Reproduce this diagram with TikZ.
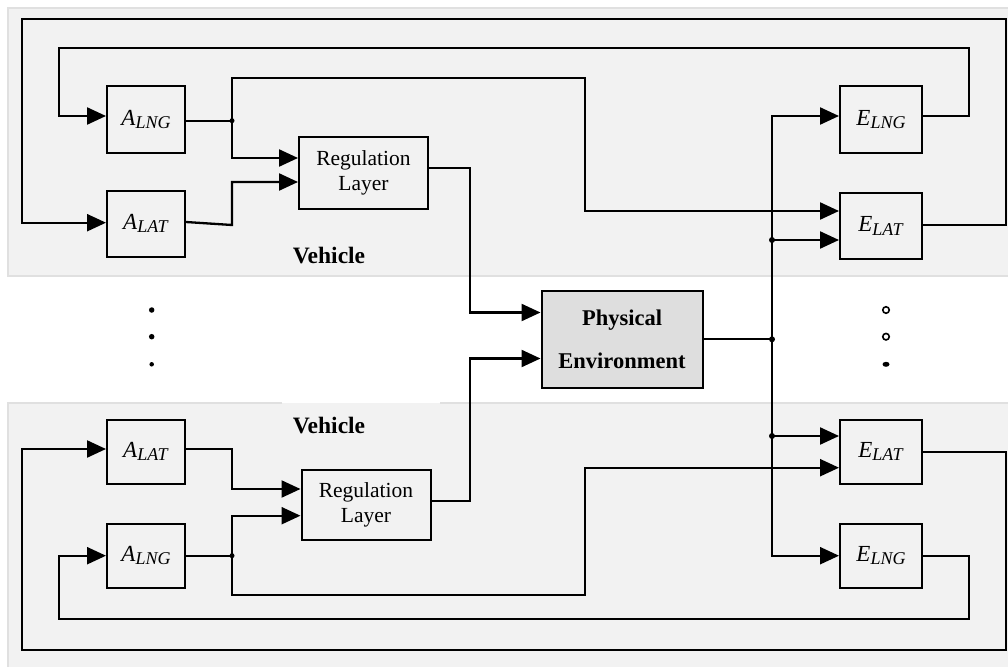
\documentclass[tikz,border=0pt]{standalone}
\usepackage{fontspec}
\setmainfont{Liberation Serif}
\usetikzlibrary{arrows.meta}
\definecolor{panel}{HTML}{F2F2F2}
\definecolor{panelborder}{HTML}{E0E0E0}
\definecolor{physfill}{HTML}{DEDEDE}
\newcommand{\blklabel}[2]{{\fontsize{23}{27}\selectfont\textit{#1}\raisebox{-3.5pt}{\fontsize{18}{20}\selectfont\textit{#2}}}}
\begin{document}
\begin{tikzpicture}[x=1pt,y=-1pt,
  box/.style={draw,line width=2pt,inner sep=0pt,fill=panel},
  smallbox/.style={box,minimum width=78pt,minimum height=66pt},
  ebox/.style={box,minimum width=82pt,minimum height=66pt},
  regbox/.style={box,minimum width=129pt,minimum height=72pt,align=center,
     font=\fontsize{21.5}{25}\selectfont},
  physbox/.style={box,fill=physfill,minimum width=161pt,minimum height=97pt,align=center,
     font=\fontsize{22.5}{43}\selectfont\bfseries},
  wire/.style={line width=2.3pt},
  arr/.style={line width=2.3pt,-{Triangle[length=19pt,width=17pt]}},
  jdot/.style={circle,fill=black,inner sep=0pt,minimum size=6pt},
  ellip/.style={circle,fill=black,inner sep=0pt,minimum size=5.5pt},
  hollow/.style={circle,draw,line width=1.6pt,inner sep=0pt,minimum size=6.5pt},
  vlabel/.style={font=\fontsize{23.5}{26}\selectfont\bfseries}
]
\useasboundingbox (0,0) rectangle (1008,666);
\fill[white] (0,0) rectangle (1008,666);
% panels
\fill[panel] (8,8) rectangle (1012,276);
\draw[panelborder,line width=2pt] (1012,8) -- (8,8) -- (8,276) -- (1012,276);
\fill[panel] (8,403) rectangle (1012,670);
\draw[panelborder,line width=2pt] (282,403) -- (8,403) -- (8,670);
\draw[panelborder,line width=2pt] (440,403) -- (1012,403);

% top vehicle
\node[smallbox] (aLngT) at (146,119.5) {\blklabel{A}{LNG}};
\node[smallbox] (aLatT) at (146,223.5) {\blklabel{A}{LAT}};
\node[regbox] (regT) at (363.5,172.5) {Regulation\\Layer};
\node[ebox] (eLngT) at (881,119.5) {\blklabel{E}{LNG}};
\node[ebox] (eLatT) at (881,226) {\blklabel{E}{LAT}};
\node[vlabel] (vehT) at (329,256) {Vehicle};

% physical environment
\node[physbox] (phys) at (622,339.5) {Physical\\Environment};

% bottom vehicle
\node[smallbox,minimum height=64pt] (aLatB) at (146,451.5) {\blklabel{A}{LAT}};
\node[smallbox,minimum height=64pt] (aLngB) at (146,555.7) {\blklabel{A}{LNG}};
\node[regbox,minimum height=70pt] (regB) at (366,505) {Regulation\\Layer};
\node[ebox,minimum height=64pt] (eLatB) at (881,451.5) {\blklabel{E}{LAT}};
\node[ebox,minimum height=64pt] (eLngB) at (881,555.7) {\blklabel{E}{LNG}};
\node[vlabel] (vehB) at (329,426) {Vehicle};

% junction dots
\node[jdot,minimum size=5pt] (jT) at (232,120.7) {};
\node[jdot] (jP) at (772,339.3) {};
\node[jdot] (jE1) at (772,240) {};
\node[jdot] (jE2) at (772,436) {};
\node[jdot,minimum size=5pt] (jB) at (232,555.7) {};

% ellipsis dots
\node[ellip] (d1) at (151.7,310) {};
\node[ellip] (d2) at (151.7,336.7) {};
\node[ellip,minimum size=4.5pt] (d3) at (151.7,364.3) {};
\node[hollow] (d4) at (886,310) {};
\node[hollow] (d5) at (886,336.7) {};
\fill (886,364.3) ellipse [x radius=3.5pt,y radius=2.5pt];

% ---- top vehicle connectors
% outer loop E_LAT -> A_LAT
\draw[arr] (eLatT.east |- 0,225) -- (1006,225) -- (1006,19.3) -- (22,19.3) -- (22,222.7) -- (aLatT.west |- 0,222.7);
% inner loop E_LNG -> A_LNG
\draw[arr] (eLngT.east |- 0,115.7) -- (969,115.7) -- (969,48.3) -- (59.3,48.3) -- (59.3,116) -- (aLngT.west |- 0,116);
% A_LNG out
\draw[wire] (aLngT.east |- jT) -- (jT.center);
\draw[arr] (jT.center) -- (232,158) -- (regT.west |- 0,158);
\draw[arr] (jT.center) -- (232,78) -- (585,78) -- (585,211) -- (eLatT.west |- 0,211);
% A_LAT out
\draw[arr] (aLatT.east |- 0,222) -- (232,225) -- (232,182) -- (regT.west |- 0,182);
% Regulation out
\draw[arr] (regT.east |- 0,168.3) -- (470,168.3) -- (470,312.5) -- (phys.west |- 0,312.5);
\draw[arr] (regB.east |- 0,501) -- (470,501) -- (470,358.5) -- (phys.west |- 0,358.5);

% physical environment out, bus
\draw[wire] (phys.east |- jP) -- (jP.center);
\draw[arr] (jP.center) -- (772,116) -- (eLngT.west |- 0,116);
\draw[arr] (jP.center) -- (772,555.7) -- (eLngB.west |- 0,555.7);
\draw[arr] (jE1.center) -- (eLatT.west |- jE1);
\draw[arr] (jE2.center) -- (eLatB.west |- jE2);

% ---- bottom vehicle connectors
\draw[wire] (aLngB.east |- jB) -- (jB.center);
\draw[arr] (jB.center) -- (232,515.7) -- (regB.west |- 0,515.7);
\draw[arr] (jB.center) -- (232,595) -- (585,595) -- (585,467.7) -- (eLatB.west |- 0,467.7);
\draw[arr] (aLatB.east |- 0,449) -- (232,449) -- (232,489) -- (regB.west |- 0,489);
% loops
\draw[arr] (eLngB.east |- 0,555.7) -- (969,555.7) -- (969,619.3) -- (59.3,619.3) -- (59.3,555.7) -- (aLngB.west |- 0,555.7);
\draw[arr] (eLatB.east |- 0,451.7) -- (1006,451.7) -- (1006,650) -- (22,650) -- (22,449) -- (aLatB.west |- 0,449);
\end{tikzpicture}
\end{document}
